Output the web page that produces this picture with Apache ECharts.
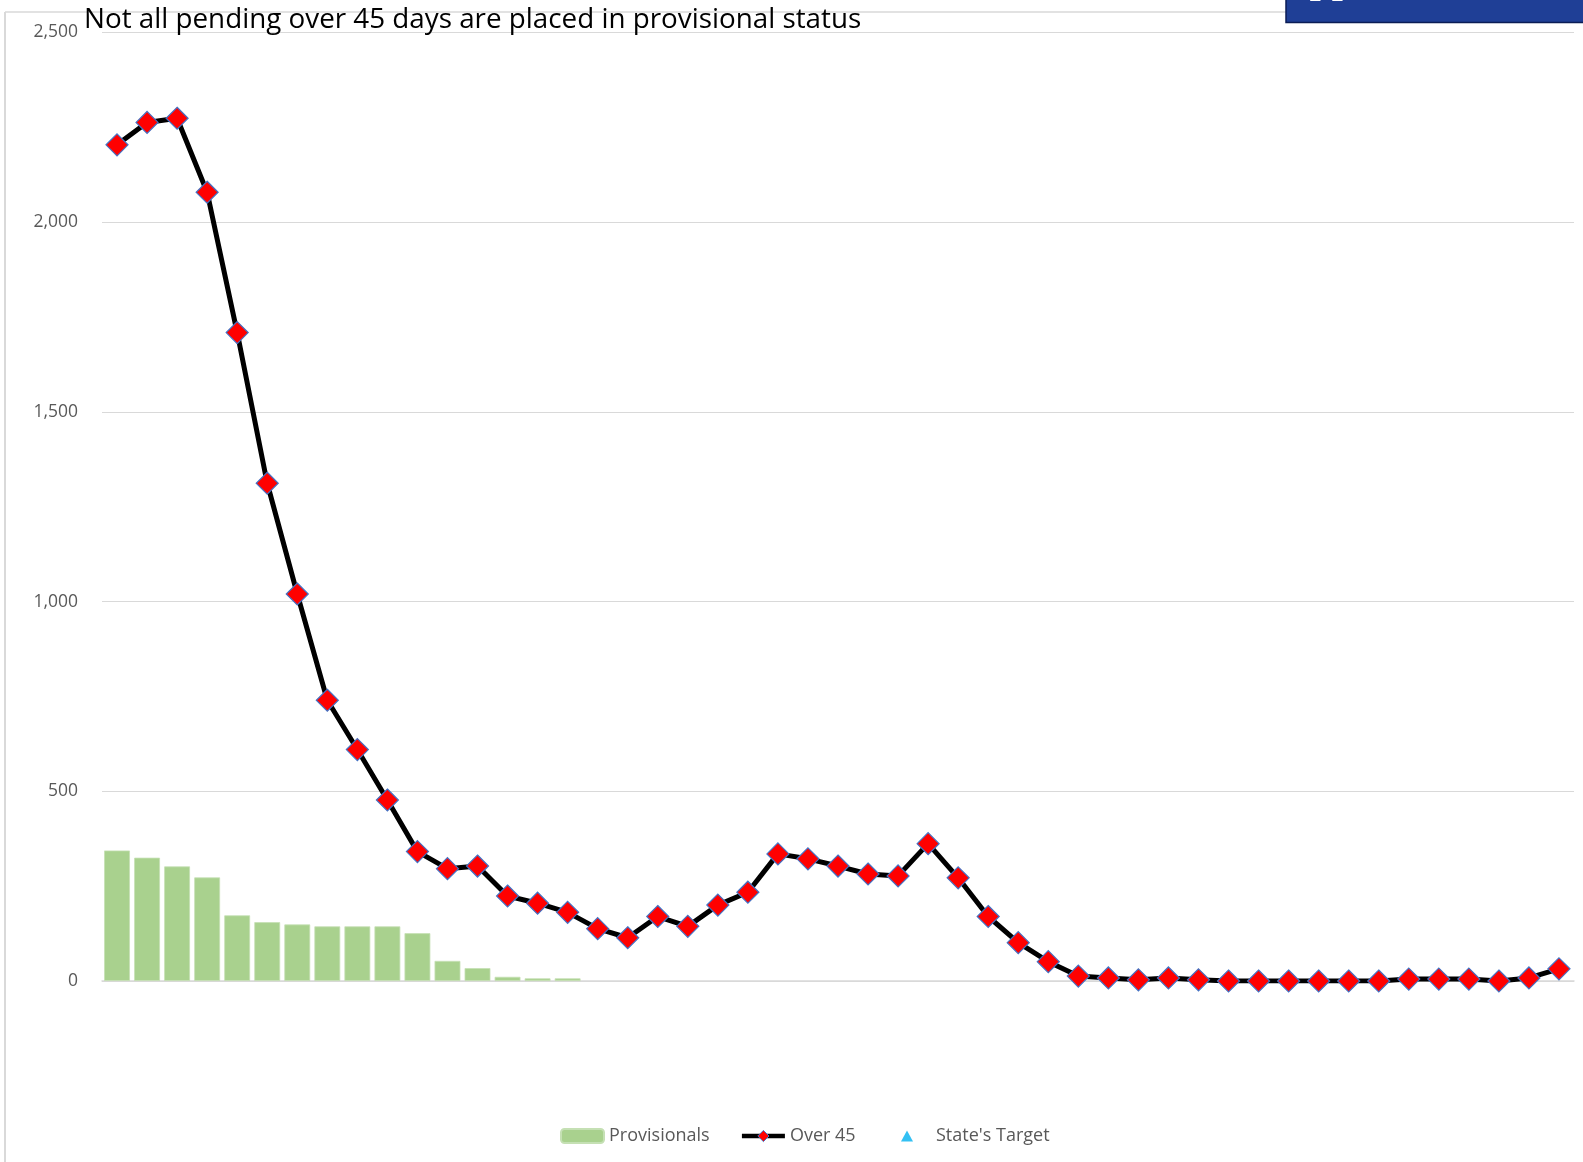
<!DOCTYPE html>
<html>
<head>
<meta charset="utf-8">
<script src="https://cdn.jsdelivr.net/npm/echarts@6/dist/echarts.min.js"></script>
<style>
html,body{margin:0;padding:0;background:#fff;}
#chart{width:1583px;height:1162px;}
</style>
</head>
<body>
<div id="chart"></div>
<script>
var titleText = "Not all pending over 45 days are placed in provisional status";
var categories = [];
for (var i = 1; i <= 49; i++) categories.push(String(i));
var provisionals = [344, 325, 302, 273, 173, 155, 149, 144, 144, 144, 126, 53, 34, 11, 7, 7];
var over45 = [2204, 2263, 2274, 2079, 1709, 1312, 1020, 740, 610, 477, 341, 296, 303, 224, 205, 181, 138, 114, 170, 144, 200, 234, 335, 322, 303, 282, 277, 362, 272, 170, 101, 51, 13, 8, 3, 8, 3, 0, 0, 0, 0, 0, 0, 5, 5, 5, 0, 8, 32];
var statesTarget = [];
var yTicks = {min: 0, max: 2500, interval: 500};

var chart = echarts.init(document.getElementById('chart'));
var FONT = 'Open Sans';
chart.setOption({
  animation: false,
  backgroundColor: '#ffffff',
  title: {
    text: titleText,
    left: 84, top: 6, padding: 0,
    textStyle: {fontFamily: FONT, fontSize: 27.8, fontWeight: 'normal', color: '#000000'}
  },
  graphic: [
    {type: 'line', z: -1, shape: {x1: 5, y1: 12, x2: 1583, y2: 12}, style: {stroke: '#d9d9d9', lineWidth: 1.5}},
    {type: 'line', z: -1, shape: {x1: 5, y1: 12, x2: 5, y2: 1162}, style: {stroke: '#d9d9d9', lineWidth: 2}},
    {type: 'rect', z: 10, shape: {x: 1286, y: -3, width: 310, height: 25.5}, style: {fill: '#1f3f96', stroke: '#0b1d55', lineWidth: 1.5}},
    {type: 'text', z: 11, x: 1301, y: 12, style: {text: 'W', verticalAlign: 'bottom', align: 'left', fontFamily: 'DejaVu Sans', fontWeight: 'bold', fontSize: 46, fill: '#ffffff'}}
  ],
  legend: [
    {
      bottom: 12, left: 555,
      itemWidth: 43, itemHeight: 14, itemGap: 30,
      textStyle: {fontFamily: FONT, fontSize: 18, color: '#595959'},
      data: [
        {name: 'Provisionals'},
        {name: 'Over 45', lineStyle: {width: 4.5, color: '#000000'}, itemStyle: {color: '#ff0000', borderColor: '#4472c4', borderWidth: 1}}
      ]
    },
    {
      bottom: 12, left: 896,
      itemWidth: 12, itemHeight: 11, itemGap: 10,
      textStyle: {fontFamily: FONT, fontSize: 18, color: '#595959', padding: [0, 0, 0, 18]},
      data: ["State's Target"]
    }
  ],
  grid: {left: 102, right: 9, top: 32.5, bottom: 181, containLabel: false},
  xAxis: {
    type: 'category',
    data: categories,
    boundaryGap: true,
    axisLine: {show: true, lineStyle: {color: '#d9d9d9', width: 1.5}},
    axisTick: {show: false},
    axisLabel: {show: false},
    splitLine: {show: false}
  },
  yAxis: {
    type: 'value',
    min: yTicks.min, max: yTicks.max, interval: yTicks.interval,
    axisLine: {show: false},
    axisTick: {show: false},
    axisLabel: {
      margin: 24,
      fontFamily: FONT, fontSize: 17.5, color: '#595959',
      formatter: function (v) { return v.toLocaleString('en-US'); }
    },
    splitLine: {show: true, lineStyle: {color: '#d9d9d9', width: 1}}
  },
  series: [
    {
      name: 'Provisionals',
      type: 'bar',
      data: provisionals,
      barWidth: '86%',
      itemStyle: {color: '#a9d18e', borderColor: '#c5e0b4', borderWidth: 0.8},
      z: 2
    },
    {
      name: 'Over 45',
      type: 'line',
      data: over45,
      symbol: 'diamond',
      symbolSize: 22,
      showSymbol: true,
      showAllSymbol: true,
      lineStyle: {color: '#000000', width: 5},
      itemStyle: {color: '#ff0000', borderColor: '#4472c4', borderWidth: 1.2},
      z: 3
    },
    {
      name: "State's Target",
      type: 'scatter',
      data: statesTarget,
      symbol: 'triangle',
      itemStyle: {color: '#00b0f0'}
    }
  ]
});
</script>
</body>
</html>
